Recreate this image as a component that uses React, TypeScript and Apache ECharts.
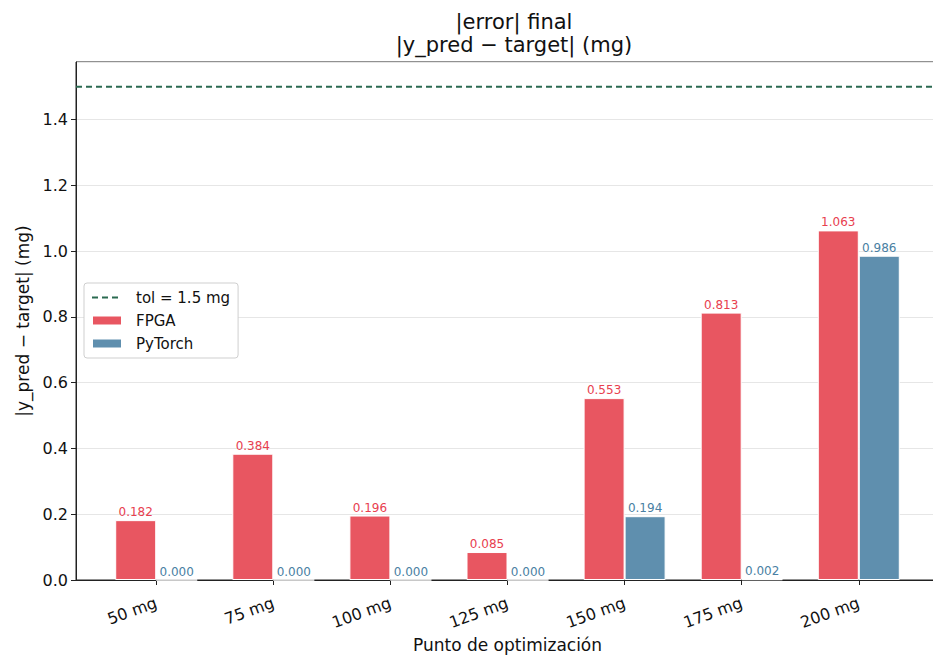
import React, { useEffect, useRef } from "react";
import * as echarts from "echarts";

const categories = ["50 mg", "75 mg", "100 mg", "125 mg", "150 mg", "175 mg", "200 mg"];
const fpgaValues = [0.182, 0.384, 0.196, 0.085, 0.553, 0.813, 1.063];
const pytorchValues = [0.0, 0.0, 0.0, 0.0, 0.194, 0.002, 0.986];
const tolerance = 1.5;

const FONT = "DejaVu Sans";
const RED = "#E85661";
const BLUE = "#5F8FAE";
const GREEN = "#2B6A51";

export default function App() {
  const ref = useRef<HTMLDivElement>(null);
  useEffect(() => {
    document.body.style.margin = "0";
    const chart = echarts.init(ref.current!, null, { renderer: "svg" });
    const xMin = -0.685;
    const xMax = categories.length - 1 + 0.685;
    chart.setOption({
      animation: false,
      textStyle: { fontFamily: FONT },
      title: {
        text: "|error| final\n|y_pred − target| (mg)",
        left: 509,
        top: 5,
        textAlign: "center",
        textStyle: { fontFamily: FONT, fontSize: 21, fontWeight: "normal", color: "#111", lineHeight: 23 },
      },
      grid: {
        left: 76,
        top: 62,
        width: 863,
        height: 518,
        show: true,
        borderColor: "#222",
        borderWidth: 1,
        backgroundColor: "transparent",
        outerBoundsMode: "none",
        containLabel: false,
      },
      legend: {
        orient: "vertical",
        left: 84,
        top: 283,
        padding: [7, 8, 7, 7],
        itemGap: 8,
        itemWidth: 30,
        itemHeight: 10,
        backgroundColor: "#fff",
        borderColor: "#cfcfcf",
        borderWidth: 1,
        borderRadius: 3,
        textStyle: { fontFamily: FONT, fontSize: 15, color: "#111", padding: [0, 0, 0, 9] },
        data: [
          { name: "tol = 1.5 mg", itemStyle: { opacity: 0 } },
          { name: "FPGA", icon: "rect" },
          { name: "PyTorch", icon: "rect" },
        ],
      },
      xAxis: {
        type: "value",
        min: xMin,
        max: xMax,
        name: "Punto de optimización",
        nameLocation: "middle",
        nameGap: 54,
        nameTextStyle: { fontFamily: FONT, fontSize: 17, color: "#111" },
        axisLine: { show: true, onZero: false, lineStyle: { color: "#222", width: 1 } },
        axisTick: {
          show: true,
          length: 5,
          lineStyle: { color: "#222" },
          customValues: categories.map((_, i) => i),
        },
        axisLabel: {
          customValues: categories.map((_, i) => i),
          formatter: (v: number) => categories[Math.round(v)] ?? "",
          rotate: 20,
          margin: 22,
          fontFamily: FONT,
          fontSize: 16,
          color: "#111",
        },
        splitLine: { show: false },
      },
      yAxis: {
        type: "value",
        min: 0,
        max: 1.575,
        interval: 0.2,
        name: "|y_pred − target| (mg)",
        nameLocation: "middle",
        nameGap: 45,
        nameTextStyle: { fontFamily: FONT, fontSize: 17, color: "#111" },
        axisLine: { show: true, onZero: false, lineStyle: { color: "#222", width: 1 } },
        axisTick: { show: true, length: 5, lineStyle: { color: "#222" } },
        axisLabel: {
          showMaxLabel: false,
          formatter: (v: number) => v.toFixed(1),
          fontFamily: FONT,
          fontSize: 16,
          color: "#111",
          margin: 8,
        },
        splitLine: { show: true, lineStyle: { color: "#e6e6e6", width: 1 } },
      },
      series: [
        {
          name: "tol = 1.5 mg",
          type: "line",
          data: [
            [xMin, tolerance],
            [xMax, tolerance],
          ],
          symbol: "none",
          lineStyle: { color: GREEN, width: 2, type: [6, 4] },
          itemStyle: { color: GREEN },
          z: 5,
        },
        {
          name: "FPGA",
          type: "bar",
          data: fpgaValues.map((v, i) => [i, v]),
          barWidth: 41,
          barGap: "0%",
          itemStyle: { color: RED, borderColor: "#fff", borderWidth: 1 },
          label: {
            show: true,
            position: "top",
            distance: 2,
            formatter: (p: any) => p.value[1].toFixed(3),
            fontFamily: FONT,
            fontSize: 12,
            color: "#E8404F",
          },
        },
        {
          name: "PyTorch",
          type: "bar",
          data: pytorchValues.map((v, i) => [i, v]),
          barWidth: 41,
          barGap: "0%",
          itemStyle: { color: BLUE, borderColor: "#fff", borderWidth: 1 },
          label: {
            show: true,
            position: "top",
            distance: 2,
            formatter: (p: any) => p.value[1].toFixed(3),
            fontFamily: FONT,
            fontSize: 12,
            color: "#4A7FA3",
          },
        },
      ],
    });
    return () => chart.dispose();
  }, []);
  return <div ref={ref} style={{ width: 933, height: 655 }} />;
}
